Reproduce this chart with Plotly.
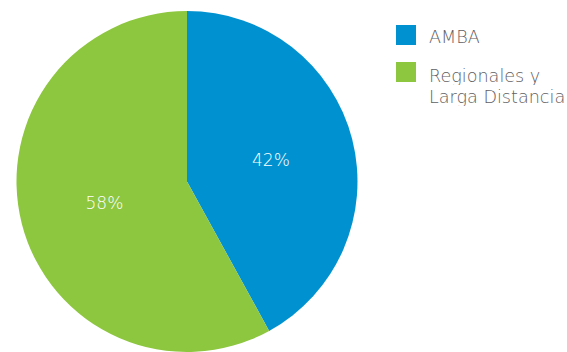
import plotly.graph_objects as go

# Share of passengers by service type
labels = ["AMBA", "Regionales y Larga Distancia"]
legend_lines = [["AMBA"], ["Regionales y", "Larga Distancia"]]
values = [42, 58]
colors = ["#0092D0", "#8DC63F"]

W, H = 567, 352
FONT = "DejaVu Sans"

fig = go.Figure(
    go.Pie(
        labels=labels,
        values=values,
        marker=dict(colors=colors, line=dict(width=0)),
        sort=False,
        direction="clockwise",
        rotation=0,
        textinfo="percent",
        texttemplate="%{percent:.0%}",
        textposition="inside",
        insidetextorientation="horizontal",
        textfont=dict(family=FONT, size=17, color="white", weight=200),
        domain=dict(x=[16 / W, 358 / W], y=[0, 341 / H]),
        showlegend=False,
        hoverinfo="label+percent",
    )
)

# Custom legend: colour swatch plus label lines for each series
shapes = []
annotations = []
swatch_top = [25, 62]
line_centres = [[36.5], [75.5, 97]]
for lines, col, top, centres in zip(legend_lines, colors, swatch_top, line_centres):
    shapes.append(dict(
        type="rect", xref="paper", yref="paper",
        x0=396 / W, x1=416 / W,
        y0=1 - (top + 20) / H, y1=1 - top / H,
        fillcolor=col, line=dict(width=0),
    ))
    for line, cy in zip(lines, centres):
        annotations.append(dict(
            x=427 / W, y=1 - cy / H, xref="paper", yref="paper",
            xanchor="left", yanchor="middle", align="left", valign="middle",
            height=18,
            text=line, showarrow=False,
            font=dict(family=FONT, size=17.6, color="#5f6062", weight=200),
        ))

fig.update_layout(
    width=W, height=H,
    margin=dict(l=0, r=0, t=0, b=0),
    paper_bgcolor="white",
    plot_bgcolor="white",
    shapes=shapes,
    annotations=annotations,
)

fig.write_html("out.html")
